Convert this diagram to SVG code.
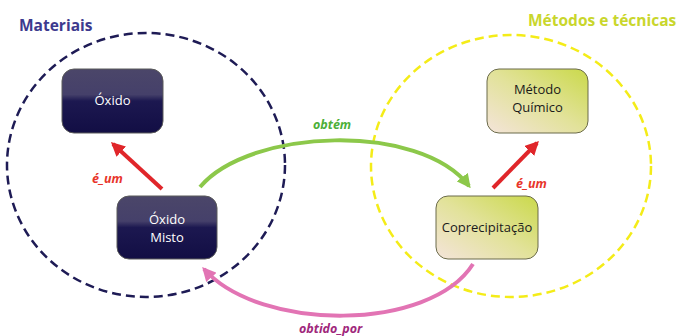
<svg xmlns="http://www.w3.org/2000/svg" width="679" height="336" viewBox="0 0 679 336">
  <defs>
    <linearGradient id="darkFill" x1="0" y1="0" x2="0" y2="1">
      <stop offset="0" stop-color="#4b4669"/>
      <stop offset="0.4" stop-color="#45406a"/>
      <stop offset="0.5" stop-color="#1c1850"/>
      <stop offset="1" stop-color="#120e44"/>
    </linearGradient>
    <linearGradient id="lightFill" x1="0" y1="1" x2="1" y2="0">
      <stop offset="0" stop-color="#f4e4da"/>
      <stop offset="0.5" stop-color="#e2e29a"/>
      <stop offset="1" stop-color="#cad94a"/>
    </linearGradient>
    <marker id="headRed" viewBox="0 0 10 10" refX="8" refY="5" markerWidth="3.5" markerHeight="3.5" orient="auto">
      <path d="M0,0 L10,5 L0,10 Z" fill="#e0262a"/>
    </marker>
    <marker id="headGreen" viewBox="0 0 10 10" refX="8" refY="5" markerWidth="3.5" markerHeight="3.5" orient="auto">
      <path d="M0,0 L10,5 L0,10 Z" fill="#8cc84a"/>
    </marker>
    <marker id="headPink" viewBox="0 0 10 10" refX="8" refY="5" markerWidth="3.5" markerHeight="3.5" orient="auto">
      <path d="M0,0 L10,5 L0,10 Z" fill="#e274b4"/>
    </marker>
  </defs>
  <style>
    .title { font-family: "Open Sans", "Liberation Sans", sans-serif; font-weight: bold; font-size: 15.5px; }
    .node-dark rect { fill: url(#darkFill); stroke: #5a5a5a; stroke-width: 1; }
    .node-light rect { fill: url(#lightFill); stroke: #6a6a4a; stroke-width: 1; }
    .node-dark text { fill: #ffffff; }
    .node-light text { fill: #1a1a1a; }
    .lbl { font-family: "Open Sans", "Liberation Sans", sans-serif; font-size: 13px; text-anchor: middle; }
    .rel { font-family: "Open Sans", "Liberation Sans", sans-serif; font-size: 12.5px; font-weight: bold; font-style: italic; }
    .conn { fill: none; stroke-width: 4; stroke-linecap: butt; }
  </style>

  <rect width="679" height="336" fill="#ffffff"/>

  <!-- category regions -->
  <g id="materiais">
    <ellipse cx="146" cy="165" rx="139" ry="132" fill="none" stroke="#1e1b55" stroke-width="2.5" stroke-dasharray="9 5"/>
    <text class="title" x="19" y="31" fill="#3d3a8e">Materiais</text>
  </g>
  <g id="metodos">
    <ellipse cx="511" cy="166" rx="140" ry="131" fill="none" stroke="#f4ec18" stroke-width="2.5" stroke-dasharray="9 5"/>
    <text class="title" x="528" y="26" fill="#c9d62c">Métodos e técnicas</text>
  </g>

  <!-- connectors -->
  <g id="connectors">
    <path class="conn" d="M162,189 L113,144" stroke="#e0262a" marker-end="url(#headRed)"/>
    <text class="rel" x="92" y="183" fill="#e8352a">é_um</text>

    <path class="conn" d="M493,188 L537,143" stroke="#e0262a" marker-end="url(#headRed)"/>
    <text class="rel" x="516" y="188" fill="#e8352a">é_um</text>

    <path class="conn" d="M200,187 C250,128 420,122 469,186" stroke="#8cc84a" marker-end="url(#headGreen)"/>
    <text class="rel" x="313" y="129" fill="#4caf38">obtém</text>

    <path class="conn" d="M473,264 C430,332 260,332 204,269" stroke="#e274b4" marker-end="url(#headPink)"/>
    <text class="rel" x="299" y="333" fill="#a0287c">obtido_por</text>
  </g>

  <!-- nodes -->
  <g id="oxido" class="node-dark">
    <rect x="62" y="69" width="101" height="64" rx="12"/>
    <text class="lbl" x="112.5" y="105">Óxido</text>
  </g>
  <g id="oxido-misto" class="node-dark">
    <rect x="117" y="196" width="100" height="63" rx="12"/>
    <text class="lbl" x="167" y="224">Óxido</text>
    <text class="lbl" x="167" y="242">Misto</text>
  </g>
  <g id="metodo-quimico" class="node-light">
    <rect x="487" y="69" width="101" height="64" rx="12"/>
    <text class="lbl" x="537.5" y="94">Método</text>
    <text class="lbl" x="537.5" y="112">Químico</text>
  </g>
  <g id="coprecipitacao" class="node-light">
    <rect x="436" y="196" width="102" height="63" rx="12"/>
    <text class="lbl" x="487" y="232">Coprecipitação</text>
  </g>
</svg>
